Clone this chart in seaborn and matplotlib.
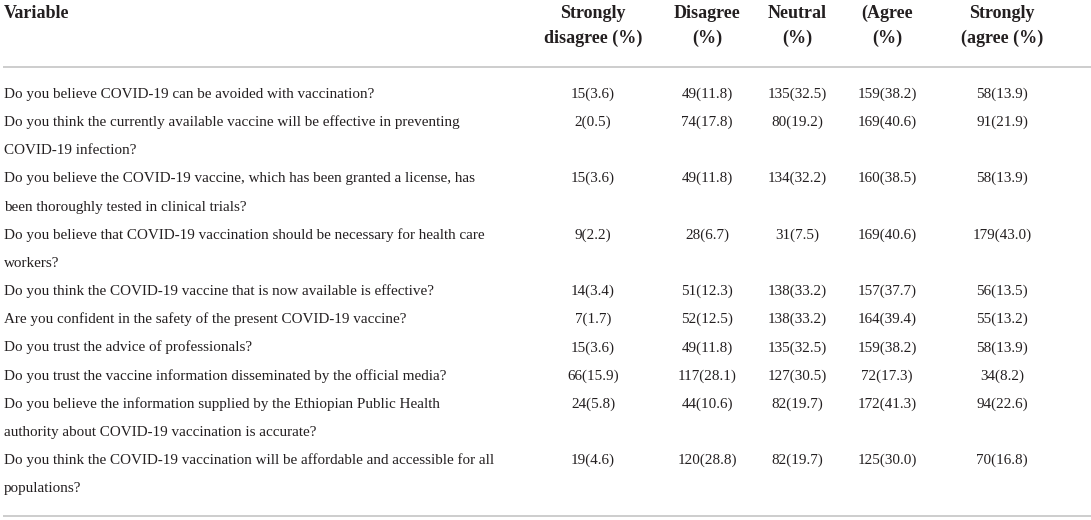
import matplotlib
matplotlib.use("Agg")
import matplotlib.pyplot as plt
import seaborn as sns

# ---------------- data ----------------
header_variable = "Variable"
column_headers = ["Strongly\ndisagree (%)", "Disagree\n(%)", "Neutral\n(%)", "(Agree\n(%)", "Strongly\n(agree (%)"]

questions = [
    "Do you believe COVID-19 can be avoided with vaccination?",
    "Do you think the currently available vaccine will be effective in preventing\nCOVID-19 infection?",
    "Do you believe the COVID-19 vaccine, which has been granted a license, has\nbeen thoroughly tested in clinical trials?",
    "Do you believe that COVID-19 vaccination should be necessary for health care\nworkers?",
    "Do you think the COVID-19 vaccine that is now available is effective?",
    "Are you confident in the safety of the present COVID-19 vaccine?",
    "Do you trust the advice of professionals?",
    "Do you trust the vaccine information disseminated by the official media?",
    "Do you believe the information supplied by the Ethiopian Public Health\nauthority about COVID-19 vaccination is accurate?",
    "Do you think the COVID-19 vaccination will be affordable and accessible for all\npopulations?",
]

strongly_disagree_n = [15, 2, 15, 9, 14, 7, 15, 66, 24, 19]
strongly_disagree_pct = [3.6, 0.5, 3.6, 2.2, 3.4, 1.7, 3.6, 15.9, 5.8, 4.6]
disagree_n = [49, 74, 49, 28, 51, 52, 49, 117, 44, 120]
disagree_pct = [11.8, 17.8, 11.8, 6.7, 12.3, 12.5, 11.8, 28.1, 10.6, 28.8]
neutral_n = [135, 80, 134, 31, 138, 138, 135, 127, 82, 82]
neutral_pct = [32.5, 19.2, 32.2, 7.5, 33.2, 33.2, 32.5, 30.5, 19.7, 19.7]
agree_n = [159, 169, 160, 169, 157, 164, 159, 72, 172, 125]
agree_pct = [38.2, 40.6, 38.5, 40.6, 37.7, 39.4, 38.2, 17.3, 41.3, 30.0]
strongly_agree_n = [58, 91, 58, 179, 56, 55, 58, 34, 94, 70]
strongly_agree_pct = [13.9, 21.9, 13.9, 43.0, 13.5, 13.2, 13.9, 8.2, 22.6, 16.8]

# ---------------- style ----------------
sns.set_theme(style="white")
plt.rcParams["font.family"] = ["Liberation Serif", "DejaVu Serif"]

TEXT = "#231f20"
RULE = "#c9c9c9"
W, H = 1091, 520

fig = plt.figure(figsize=(W / 100, H / 100), dpi=100)
ax = fig.add_axes([0, 0, 1, 1])
ax.set_xlim(0, W)
ax.set_ylim(H, 0)
ax.axis("off")

body_size = 10.9
head_size = 13.0
left_x = 4
col_x = [593, 707, 797, 887, 1002]

# header
head_base = 18.3
head_step = 24.7
ax.text(left_x, head_base, header_variable, fontsize=head_size, fontweight="bold",
        color=TEXT, ha="left", va="baseline")
for cx, h in zip(col_x, column_headers):
    for j, part in enumerate(h.split("\n")):
        ax.text(cx, head_base + j * head_step, part, fontsize=head_size, fontweight="bold",
                color=TEXT, ha="center", va="baseline")

# rules
ax.plot([3, W], [67.3, 67.3], color=RULE, lw=1.3, solid_capstyle="butt")
ax.plot([3, W], [515.7, 515.7], color=RULE, lw=1.3, solid_capstyle="butt")

# body
first_base = 97.7
line_step = 28.2
columns = [
    (strongly_disagree_n, strongly_disagree_pct),
    (disagree_n, disagree_pct),
    (neutral_n, neutral_pct),
    (agree_n, agree_pct),
    (strongly_agree_n, strongly_agree_pct),
]
line_idx = 0
for i, q in enumerate(questions):
    parts = q.split("\n")
    row_base = first_base + line_idx * line_step
    for j, part in enumerate(parts):
        ax.text(left_x, row_base + j * line_step, part, fontsize=body_size, color=TEXT,
                ha="left", va="baseline")
    for cx, (ns, ps) in zip(col_x, columns):
        ax.text(cx, row_base, f"{ns[i]}({ps[i]:.1f})", fontsize=body_size, color=TEXT,
                ha="center", va="baseline")
    line_idx += len(parts)

fig.savefig("out.png", dpi=100, facecolor="white")
